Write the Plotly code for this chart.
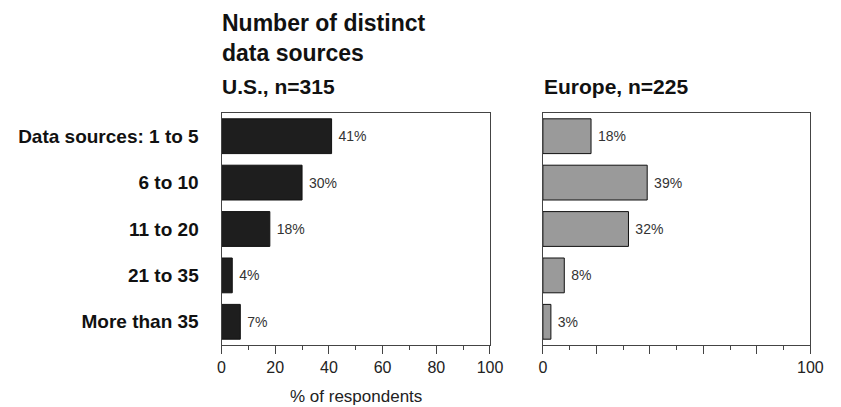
import plotly.graph_objects as go

categories = ["Data sources: 1 to 5", "6 to 10", "11 to 20", "21 to 35", "More than 35"]
us_values = [41, 30, 18, 4, 7]
eu_values = [18, 39, 32, 8, 3]
us_title = "U.S., n=315"
eu_title = "Europe, n=225"
main_title = ["Number of distinct", "data sources"]
x_title = "% of respondents"

W, H = 841, 407
def px(x):
    return x / W
def py(y):
    return 1 - y / H

FONT = "Liberation Sans, Arial, sans-serif"

fig = go.Figure()
fig.add_trace(go.Bar(
    y=categories, x=us_values, orientation="h",
    marker=dict(color="#1e1e1e", line=dict(color="#111111", width=1)),
    width=0.75,
    text=[f"\u00a0{v}%" for v in us_values], textposition="outside",
    textfont=dict(family=FONT, size=14, color="#333333"),
    cliponaxis=False,
    xaxis="x", yaxis="y", showlegend=False,
))
fig.add_trace(go.Bar(
    y=categories, x=eu_values, orientation="h",
    marker=dict(color="#9a9a9a", line=dict(color="#111111", width=1)),
    width=0.75,
    text=[f"\u00a0{v}%" for v in eu_values], textposition="outside",
    textfont=dict(family=FONT, size=14, color="#333333"),
    cliponaxis=False,
    xaxis="x2", yaxis="y2", showlegend=False,
))

ydom = [py(345), py(113)]
axis_common = dict(showline=True, linecolor="#444444", linewidth=1, mirror=True,
                   showgrid=False, zeroline=False, range=[0, 100], fixedrange=True)

fig.update_layout(
    width=W, height=H,
    margin=dict(l=0, r=0, t=0, b=0),
    paper_bgcolor="white", plot_bgcolor="white",
    font=dict(family=FONT, color="#222222"),
    bargap=0.25,
    xaxis=dict(domain=[px(222), px(496)], anchor="y",
               tickvals=[0, 20, 40, 60, 80, 100],
               ticks="outside", ticklen=8, tickcolor="#444444",
               minor=dict(dtick=10, ticks="outside", ticklen=4, tickcolor="#444444"),
               tickfont=dict(size=16, color="#222222"),
               **axis_common),
    yaxis=dict(domain=ydom, anchor="x", type="category",
               categoryorder="array", categoryarray=categories,
               autorange="reversed",
               showline=True, linecolor="#444444", mirror=True,
               showgrid=False, ticks="", ticklabelstandoff=18,
               tickvals=categories,
               ticktext=[f"<b>{c}</b>" for c in categories],
               tickfont=dict(size=19, color="#111111")),
    xaxis2=dict(domain=[px(550), px(823)], anchor="y2",
                tickvals=[0, 20, 40, 60, 80, 100],
                ticktext=["0", "", "", "", "", "100"],
                ticks="outside", ticklen=8, tickcolor="#444444",
                minor=dict(dtick=10, ticks="outside", ticklen=4, tickcolor="#444444"),
                tickfont=dict(size=16, color="#222222"),
                **axis_common),
    yaxis2=dict(domain=ydom, anchor="x2", type="category",
                categoryorder="array", categoryarray=categories,
                autorange="reversed",
                showline=True, linecolor="#444444", mirror=True,
                showgrid=False, ticks="", showticklabels=False),
)

ann = []
ann.append(dict(text=f"<b>{main_title[0]}</b>", x=px(220), y=py(23), xref="paper", yref="paper",
                xanchor="left", yanchor="middle", showarrow=False,
                font=dict(size=23, color="#111111")))
ann.append(dict(text=f"<b>{main_title[1]}</b>", x=px(220), y=py(53), xref="paper", yref="paper",
                xanchor="left", yanchor="middle", showarrow=False,
                font=dict(size=23, color="#111111")))
ann.append(dict(text=f"<b>{us_title}</b>", x=px(220), y=py(87), xref="paper", yref="paper",
                xanchor="left", yanchor="middle", showarrow=False,
                font=dict(size=21, color="#111111")))
ann.append(dict(text=f"<b>{eu_title}</b>", x=px(549), y=py(87), xref="paper", yref="paper",
                xanchor="left", yanchor="middle", showarrow=False,
                font=dict(size=21, color="#111111")))
ann.append(dict(text=x_title, x=px(359), y=py(396), xref="paper", yref="paper",
                xanchor="center", yanchor="middle", showarrow=False,
                font=dict(size=17, color="#222222")))
fig.update_layout(annotations=ann)

fig.write_html("out.html")
